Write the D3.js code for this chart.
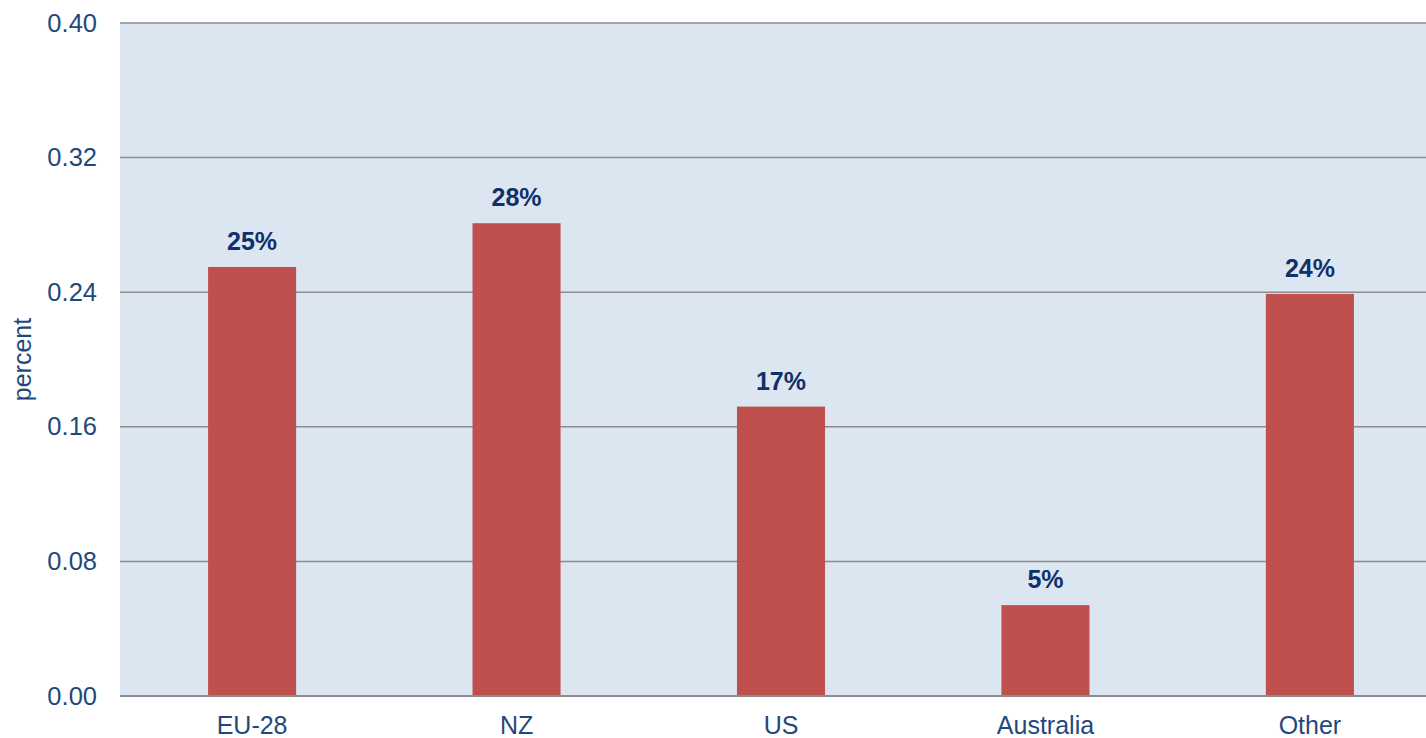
<!DOCTYPE html>
<html>
<head>
<meta charset="utf-8">
<script src="https://cdn.jsdelivr.net/npm/d3@7"></script>
<style>
  body { margin: 0; background: #fff; }
  svg { display: block; font-family: "Liberation Sans", Arial, sans-serif; }
</style>
</head>
<body>
<svg width="1426" height="738"></svg>
<script>
const categories = ["EU-28", "NZ", "US", "Australia", "Other"];
const shares = [0.255, 0.281, 0.172, 0.054, 0.239];
const shareLabels = ["25%", "28%", "17%", "5%", "24%"];
const yTicks = [0, 0.08, 0.16, 0.24, 0.32, 0.4];

const svg = d3.select("svg"),
  margin = { top: 23, right: 0, bottom: 42, left: 120 },
  width = +svg.attr("width") - margin.left - margin.right,
  height = +svg.attr("height") - margin.top - margin.bottom,
  x = d3.scaleBand().domain(categories).range([0, width + 16]).paddingInner(0.667).paddingOuter(0.333),
  y = d3.scaleLinear().domain([0, 0.4]).range([height, 0]),
  g = svg.append("g").attr("transform", `translate(${margin.left},${margin.top})`);

g.append("rect")
  .attr("width", width)
  .attr("height", height)
  .attr("fill", "#dce6f1");

// gridlines
g.selectAll(".grid")
  .data(yTicks)
  .enter()
  .append("line")
  .attr("class", "grid")
  .attr("x1", 0)
  .attr("x2", width)
  .attr("y1", (d) => y(d))
  .attr("y2", (d) => y(d))
  .attr("stroke", "#8c8c8c")
  .attr("stroke-width", 1.5);

// y tick labels
const yAxis = g.append("g")
  .call(d3.axisLeft(y).tickValues(yTicks).tickSize(0).tickPadding(23).tickFormat(d3.format(".2f")));
yAxis.select(".domain").remove();
yAxis.selectAll("text")
  .attr("fill", "#1f497d")
  .style("font-size", "25.5px")
  .style("font-family", "Liberation Sans, Arial, sans-serif");

// x tick labels
const xAxis = g.append("g")
  .attr("transform", `translate(0,${height})`)
  .call(d3.axisBottom(x).tickSize(0).tickPadding(20));
xAxis.select(".domain").remove();
xAxis.selectAll("text")
  .attr("fill", "#1f497d")
  .style("font-size", "25px")
  .style("font-family", "Liberation Sans, Arial, sans-serif");

const rows = categories.map((c, i) => ({ cat: c, v: shares[i], label: shareLabels[i] }));

g.selectAll(".bar")
  .data(rows)
  .enter()
  .append("rect")
  .attr("class", "bar")
  .attr("x", (d) => x(d.cat))
  .attr("y", (d) => y(d.v))
  .attr("width", x.bandwidth())
  .attr("height", (d) => height - y(d.v))
  .attr("fill", "#c0504d");

// redraw baseline over bars
g.append("line")
  .attr("x1", 0)
  .attr("x2", width)
  .attr("y1", y(0))
  .attr("y2", y(0))
  .attr("stroke", "#8c8c8c")
  .attr("stroke-width", 2);

g.selectAll(".val")
  .data(rows)
  .enter()
  .append("text")
  .attr("class", "val")
  .attr("x", (d) => x(d.cat) + x.bandwidth() / 2)
  .attr("y", (d) => y(d.v) - 17)
  .attr("text-anchor", "middle")
  .attr("fill", "#102f6b")
  .style("font-size", "25px")
  .style("font-weight", "bold")
  .text((d) => d.label);

svg.append("text")
  .attr("transform", `translate(31,${margin.top + height / 2}) rotate(-90)`)
  .attr("text-anchor", "middle")
  .attr("fill", "#1f497d")
  .style("font-size", "25px")
  .text("percent");
</script>
</body>
</html>
